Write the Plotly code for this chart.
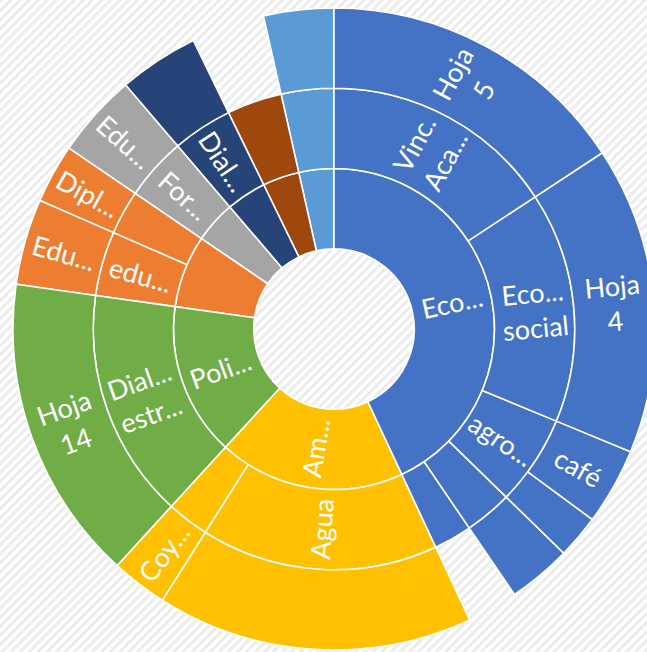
import base64
import math
import plotly.graph_objects as go

# ---- data (clockwise order, starting at 12 o'clock) ----
ids = ["root",
       "B", "B1", "B1a", "B2", "B2a", "B3", "B3a", "B3b", "B4", "B4a", "B5",
       "Y", "Y1", "Y1a", "Y2", "Y2a",
       "G", "G1", "G1a",
       "O", "O1", "O1a", "O2", "O2a",
       "R", "R1", "R1a",
       "D", "D1", "D1a",
       "N", "N1",
       "L", "L1", "L1a"]
labels = ["",
          "Eco...", "Vinc.<br>Aca...", "Hoja<br>5", "Eco...<br>social", "Hoja<br>4", "agro...", "café", "", "", "", "",
          "Am...", "Agua", "", "", "Coy...",
          "Poli...", "Dial...<br>estr...", "Hoja<br>14",
          "", "edu...", "Edu...", "", "Dipl...",
          "", "For...", "Edu...",
          "", "Dial...", "",
          "", "",
          "", "", ""]
parents = ["",
           "root", "B", "B1", "B", "B2", "B", "B3", "B3", "B", "B4", "B",
           "root", "Y", "Y1", "Y", "Y2",
           "root", "G", "G1",
           "root", "O", "O1", "O", "O2",
           "root", "R", "R1",
           "root", "D", "D1",
           "root", "N",
           "root", "L", "L1"]
values = [0,
          0, 0, 56.7, 0, 55.8, 0, 13.9, 7.9, 0, 11.5, 9.2,
          0, 0, 57.3, 0, 10.2,
          0, 0, 55.5,
          0, 0, 15.6, 0, 10.7,
          0, 0, 15.2,
          0, 0, 14.5,
          0, 13.3,
          0, 0, 12.7]
group_colors = {"B": "#4472C4", "Y": "#FFC000", "G": "#70AD47", "O": "#ED7D31",
                "R": "#A5A5A5", "D": "#264478", "N": "#9E480E", "L": "#5B9BD5"}

colors = ["rgba(0,0,0,0)" if i == "root" else group_colors[i[0]] for i in ids]

# plotly lays slices counter-clockwise, so reverse to get a clockwise reading
r_ids, r_labels, r_parents = ids[::-1], labels[::-1], parents[::-1]
r_values, r_colors = values[::-1], colors[::-1]

fig = go.Figure(go.Sunburst(
    ids=r_ids, labels=r_labels, parents=r_parents, values=r_values,
    branchvalues="remainder", sort=False, rotation=90,
    marker=dict(colors=r_colors, line=dict(color="white", width=1.6)),
    leaf=dict(opacity=1),
    textinfo="none",
    hoverinfo="skip",
))

W, H = 660, 652
ml, mr, mt, mb = 13, 5, 8, 2
pw, ph = W - ml - mr, H - mt - mb
R = min(pw, ph) / 2.0

# ---- labels, placed Excel-style (mid-angle, ring centre, radial text) ----
children = {i: [] for i in ids}
for i, p in zip(ids, parents):
    if p:
        children[p].append(i)
val = dict(zip(ids, values))
lab = dict(zip(ids, labels))


def total(n):
    return val[n] + sum(total(c) for c in children[n])


scale = 360.0 / total("root")
span = {"root": (0.0, 360.0)}
depth = {"root": 0}


def layout_node(n):
    cur = span[n][0]
    for c in children[n]:
        w = total(c) * scale
        span[c] = (cur, cur + w)
        depth[c] = depth[n] + 1
        cur += w
        layout_node(c)


layout_node("root")
max_depth = max(depth.values())
ring = R / (max_depth + 1)

annotations = []
for n in ids:
    if not lab[n]:
        continue
    a0, a1 = span[n]
    th = (a0 + a1) / 2.0
    rr = (depth[n] + 0.5) * ring
    x = 0.5 + rr * math.sin(math.radians(th)) / pw
    y = 0.5 + rr * math.cos(math.radians(th)) / ph
    ang = th - 90 if th < 180 else th - 270
    annotations.append(dict(
        x=x, y=y, xref="paper", yref="paper", text=lab[n], showarrow=False,
        textangle=ang, xanchor="center", yanchor="middle", align="center",
        font=dict(family="Lato, Open Sans, sans-serif", size=27, color="white")))

svg = (f'<svg xmlns="http://www.w3.org/2000/svg" width="{W}" height="{H}">'
       '<defs><pattern id="p" width="6.4" height="6.4" patternUnits="userSpaceOnUse" '
       'patternTransform="rotate(45)"><rect width="3" height="6.4" fill="#ececec"/></pattern></defs>'
       '<rect width="100%" height="100%" fill="#ffffff"/>'
       '<rect width="100%" height="100%" fill="url(#p)"/></svg>')
src = "data:image/svg+xml;base64," + base64.b64encode(svg.encode()).decode()

fig.update_layout(
    width=W, height=H,
    margin=dict(l=ml, r=mr, t=mt, b=mb, pad=0),
    paper_bgcolor="white",
    annotations=annotations,
    images=[dict(source=src, xref="paper", yref="paper",
                 x=-ml / pw, y=1 + mt / ph, sizex=W / pw, sizey=H / ph,
                 xanchor="left", yanchor="top", sizing="stretch", layer="below")],
)

fig.write_html("out.html", config={"displayModeBar": False},
               post_script="document.body.style.margin='0';document.body.style.overflow='hidden';")
